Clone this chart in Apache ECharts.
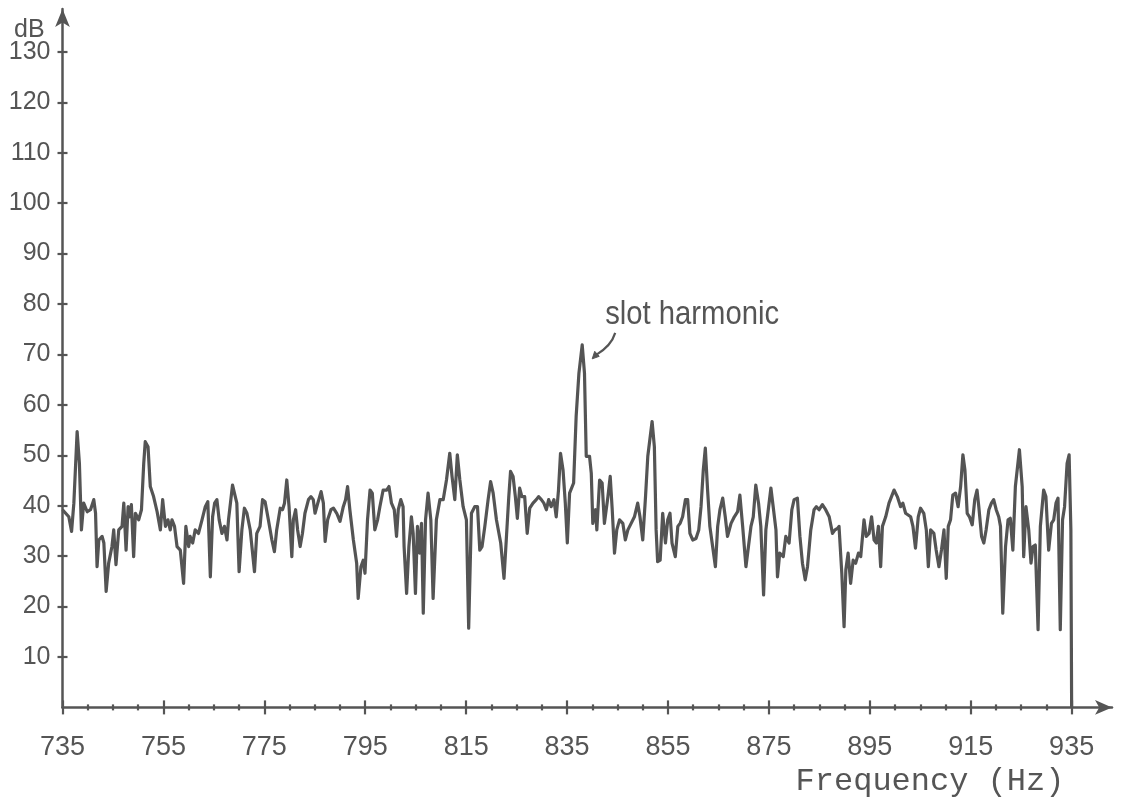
<!DOCTYPE html>
<html>
<head>
<meta charset="utf-8">
<title>Frequency spectrum – slot harmonic</title>
<script src="https://cdn.jsdelivr.net/npm/echarts@6/dist/echarts.min.js"></script>
<style>
  html, body { margin: 0; padding: 0; background: #ffffff; }
  #chart { width: 1121px; height: 804px; }
</style>
</head>
<body>
<div id="chart"></div>
<script>
// Spectrum samples: frequency (Hz) and level (dB)
const freqHz = [
  735.0, 736.25, 736.8, 737.25, 737.9, 738.35, 738.75, 739.2, 739.9, 740.55,
  741.2, 741.55, 741.85, 742.2, 742.85, 743.2, 743.65, 744.15, 744.8, 745.15,
  745.6, 746.15, 746.8, 747.15, 747.6, 748.0, 748.25, 748.65, 749.1, 749.45,
  750.1, 750.65, 751.1, 751.4, 751.95, 752.4, 753.05, 753.75, 754.4, 754.85,
  755.4, 755.9, 756.35, 756.7, 757.2, 757.7, 758.35, 759.0, 759.45, 760.0,
  760.3, 760.8, 761.3, 761.95, 762.65, 763.3, 763.8, 764.3, 764.75, 765.15,
  765.6, 766.05, 766.6, 767.1, 767.6, 767.9, 768.7,
  769.55, 770.0, 770.55, 771.05, 771.55, 772.2, 773.05, 773.5, 774.15, 774.65,
  775.15, 775.8, 776.5, 777.0, 777.45, 778.15, 778.6, 779.0, 779.45, 779.9,
  780.45, 780.75, 781.2, 781.6, 782.1, 782.55, 783.05, 783.75, 784.25, 784.7,
  785.05, 785.6, 786.25, 786.7, 787.05, 787.55, 788.2, 788.7, 789.35, 790.0,
  790.65, 791.1, 791.5, 791.95, 792.65, 793.3, 793.6, 794.15, 794.6, 794.95,
  795.45, 795.95, 796.4, 796.9, 797.45, 797.9, 798.55, 799.25, 799.7, 800.2,
  800.75, 801.2, 801.55, 802.05, 802.5,
  802.7, 803.2, 803.65, 804.15, 804.5, 804.95, 805.35, 805.8, 806.15, 806.5,
  806.95, 807.45, 808.0, 808.45, 809.1, 809.8, 810.45, 811.1, 811.75, 812.2,
  812.75, 813.25, 813.75, 814.4, 815.05, 815.5, 816.05, 816.7, 817.25, 817.7,
  818.15, 818.7, 819.35, 819.85, 820.35, 821.0, 821.85, 822.5, 822.95, 823.45,
  823.8, 824.3, 824.75, 825.15, 825.6, 826.05, 826.6, 827.1, 827.6, 828.25,
  828.9, 829.35, 829.9, 830.4, 830.9, 831.35, 831.85, 832.4, 832.85, 833.3,
  833.7, 834.2, 834.65, 835.05, 835.5,
  835.8, 836.3, 836.8, 837.35, 838.0, 838.45, 838.8, 839.45, 839.8, 840.1,
  840.65, 840.9, 841.45, 841.95, 842.4, 843.1, 843.55, 843.95, 844.4, 844.85,
  845.4, 846.05, 846.55, 847.05, 847.7, 848.35, 849.0, 849.45, 850.0, 850.55,
  851.0, 851.85, 852.3, 852.65, 852.95, 853.45, 853.95, 854.5, 854.95, 855.4,
  855.8, 856.45, 856.95, 857.4, 857.9, 858.45, 858.9, 859.35, 859.9, 860.55,
  861.1, 861.55, 862.0, 862.4, 862.85, 863.3, 863.85, 864.4, 864.85, 865.3,
  865.85, 866.35, 866.8, 867.5, 868.15, 868.8,
  869.25, 869.8, 870.45, 870.95, 871.45, 871.9, 872.4, 872.95, 873.4, 873.95,
  874.4, 874.95, 875.4, 875.85, 876.4, 876.7, 877.15, 877.85, 878.35, 879.0,
  879.55, 880.0, 880.65, 881.15, 881.65, 882.2, 882.65, 883.3, 883.95, 884.4,
  884.95, 885.6, 886.25, 886.95, 887.6, 888.1, 888.6, 888.9, 889.45, 889.9,
  890.25, 890.7, 891.2, 891.7, 892.2, 892.75, 893.2, 893.85, 894.3, 894.85,
  895.35, 895.85, 896.3, 896.7, 897.15, 897.5, 898.15, 898.8, 899.8, 900.45,
  901.1, 901.55, 902.1,
  903.1, 903.55, 904.05, 904.6, 905.05, 905.7, 906.2, 906.6, 907.05, 907.7,
  908.15, 908.7, 909.2, 909.7, 910.15, 910.55, 911.0, 911.45, 912.0, 912.5,
  913.0, 913.45, 913.85, 914.3, 914.75, 915.3, 915.8, 916.25, 916.6, 917.15,
  917.6, 918.05, 918.6, 919.1, 919.55, 920.05, 920.55, 920.9, 921.35, 921.9,
  922.4, 922.85, 923.35, 923.85, 924.65, 925.2, 925.5, 925.95, 926.5, 926.95,
  927.35, 927.8, 928.35, 928.8, 929.45, 929.9, 930.45, 931.0, 931.45, 931.9,
  932.3, 932.75, 933.2, 933.6, 934.1, 934.5, 934.85, 935.0
];

const levelDb = [
  39.2, 37.8, 34.9, 40.5, 54.7, 48.4, 35.2, 40.5, 38.8, 39.2,
  41.2, 38.5, 27.9, 33.2, 33.9, 32.6, 23.0, 28.6, 31.9, 35.2,
  28.3, 35.2, 35.9, 40.5, 31.2, 39.8, 37.8, 40.2, 29.9, 38.5,
  37.2, 39.2, 48.4, 52.7, 51.7, 43.8, 41.8, 38.8, 35.2, 41.2,
  35.9, 37.2, 35.2, 37.2, 35.9, 31.9, 31.2, 24.6, 35.9, 31.9,
  33.9, 32.6, 35.2, 34.5, 37.2, 39.8, 40.8, 25.9, 37.8, 40.5,
  41.2, 37.2, 34.5, 35.9, 33.2, 37.2, 44.1,
  40.5, 26.9, 35.2, 39.5, 38.5, 35.2, 26.9, 34.5, 35.9, 41.2,
  40.8, 37.2, 33.2, 30.9, 35.2, 39.5, 39.2, 40.5, 45.1, 39.8,
  29.9, 37.2, 39.2, 35.2, 31.9, 34.5, 38.5, 41.2, 41.8, 41.2,
  38.5, 40.5, 42.8, 40.5, 32.9, 37.2, 39.2, 39.5, 38.5, 36.9,
  39.8, 41.2, 43.8, 39.2, 33.2, 28.6, 21.6, 27.9, 29.2, 26.6,
  37.2, 43.1, 42.5, 35.2, 37.2, 39.8, 43.1, 43.1, 43.8, 40.5,
  39.2, 33.9, 39.2, 41.2, 39.8,
  31.9, 22.6, 31.9, 37.8, 34.5, 22.6, 35.9, 30.6, 36.5, 18.7,
  37.2, 42.5, 37.2, 21.6, 37.2, 41.2, 41.2, 45.1, 50.4, 45.8,
  41.2, 50.1, 45.1, 39.8, 37.2, 15.7, 38.5, 39.8, 39.8, 31.2,
  31.9, 35.9, 41.2, 44.8, 42.5, 37.2, 32.6, 25.6, 33.2, 41.8,
  46.8, 45.8, 41.8, 37.5, 43.5, 41.8, 41.8, 34.5, 39.5, 40.5,
  41.2, 41.8, 41.2, 40.5, 39.2, 41.2, 39.8, 41.2, 37.8, 43.1,
  50.4, 47.1, 40.5, 32.6, 42.5,
  42.5, 44.5, 57.7, 66.3, 71.9, 66.3, 49.8, 49.8, 46.4, 36.5,
  39.2, 35.2, 45.1, 44.5, 36.5, 41.8, 45.8, 39.2, 30.6, 35.2,
  37.2, 36.5, 33.2, 35.2, 36.5, 37.8, 40.5, 37.8, 33.2, 41.8,
  49.8, 56.7, 51.7, 35.2, 28.9, 29.2, 38.5, 32.6, 37.2, 38.5,
  32.6, 29.9, 35.9, 36.5, 37.8, 41.2, 41.2, 34.5, 33.2, 33.5,
  35.2, 39.8, 47.1, 51.4, 43.1, 35.9, 31.9, 27.9, 35.9, 39.2,
  41.5, 37.8, 33.9, 36.5, 37.8, 38.8,
  42.1, 35.9, 27.9, 31.9, 35.9, 37.8, 44.1, 40.5, 35.9, 22.3,
  35.2, 39.8, 43.5, 39.8, 35.2, 25.9, 30.6, 29.9, 33.9, 32.6,
  39.2, 41.2, 41.5, 33.9, 28.6, 25.3, 27.9, 35.2, 39.2, 39.8,
  39.2, 40.2, 39.2, 37.8, 34.5, 35.2, 35.5, 35.9, 26.6, 16.0,
  27.3, 30.6, 24.6, 29.2, 28.6, 30.6, 29.9, 37.2, 33.9, 34.5,
  37.8, 33.2, 32.6, 35.9, 27.9, 35.9, 37.8, 40.5, 43.1, 41.8,
  39.8, 40.5, 38.5,
  37.8, 35.9, 31.6, 37.8, 39.5, 38.5, 35.2, 27.9, 35.2, 34.5,
  31.2, 27.9, 31.2, 35.2, 25.6, 35.9, 37.2, 42.1, 42.5, 39.8,
  43.8, 50.1, 47.1, 38.5, 37.8, 36.2, 41.2, 43.1, 39.8, 33.9,
  32.6, 35.2, 39.2, 40.5, 41.2, 39.2, 37.8, 35.9, 18.7, 31.9,
  37.2, 37.5, 31.2, 43.8, 51.1, 43.8, 29.9, 39.8, 35.2, 28.6,
  31.9, 32.2, 15.4, 35.9, 43.1, 41.8, 31.2, 36.5, 37.2, 40.5,
  41.5, 15.4, 37.2, 39.8, 48.4, 50.1, 35.2, 0
];

// Axis ticks
const xLabelTicks = [735, 755, 775, 795, 815, 835, 855, 875, 895, 915, 935];
const xMinorTicks = [
  740, 745, 750, 760, 765, 770, 780, 785, 790, 800, 805, 810, 820, 825, 830,
  840, 845, 850, 860, 865, 870, 880, 885, 890, 900, 905, 910, 920, 925, 930
];
const yLabelTicks = [10, 20, 30, 40, 50, 60, 70, 80, 90, 100, 110, 120, 130];

const yUnit = 'dB';
const xTitle = 'Frequency (Hz)';
const peakNote = 'slot harmonic';

// Axis extents (the lines run past the last tick to the arrow heads)
const X_MIN = 735, X_MAX = 943.0;
const Y_MIN = 0, Y_MAX = 138.5;

const INK = '#555555';
const LABEL_FONT = "'Liberation Sans', Arial, sans-serif";

const chart = echarts.init(document.getElementById('chart'), null, { renderer: 'canvas' });

const seriesData = freqHz.map((f, i) => [f, levelDb[i]]);

// Base axis definitions, reused by the overlaid tick-only axes
function xAxisBase(extra) {
  return Object.assign({
    type: 'value', min: X_MIN, max: X_MAX, position: 'bottom',
    axisLine: { show: false },
    axisLabel: { show: false },
    splitLine: { show: false },
    axisTick: { show: false }
  }, extra);
}
function yAxisBase(extra) {
  return Object.assign({
    type: 'value', min: Y_MIN, max: Y_MAX, position: 'left',
    axisLine: { show: false },
    axisLabel: { show: false },
    splitLine: { show: false },
    axisTick: { show: false }
  }, extra);
}

const option = {
  backgroundColor: '#ffffff',
  animation: false,
  grid: {
    left: 62.5, right: 9, top: 9, bottom: 96.6,
    containLabel: false,
    outerBoundsMode: 'none'
  },
  xAxis: [
    xAxisBase({
      axisLine: {
        show: true,
        symbol: ['none', 'arrow'],
        symbolSize: [11, 17],
        lineStyle: { color: INK, width: 2.5 }
      },
      axisTick: {
        show: true, inside: false, length: 7,
        customValues: xLabelTicks,
        lineStyle: { color: INK, width: 2.2 }
      },
      axisLabel: {
        show: true, margin: 27,
        customValues: xLabelTicks,
        color: INK, fontSize: 27, fontFamily: LABEL_FONT
      }
    }),
    xAxisBase({
      axisTick: {
        show: true, inside: true, length: 7,
        customValues: xLabelTicks,
        lineStyle: { color: INK, width: 2.2 }
      }
    }),
    xAxisBase({
      axisTick: {
        show: true, inside: false, length: 3,
        customValues: xMinorTicks,
        lineStyle: { color: INK, width: 2.2 }
      }
    }),
    xAxisBase({
      axisTick: {
        show: true, inside: true, length: 3,
        customValues: xMinorTicks,
        lineStyle: { color: INK, width: 2.2 }
      }
    })
  ],
  yAxis: [
    yAxisBase({
      axisLine: {
        show: true,
        symbol: ['none', 'arrow'],
        symbolSize: [11, 18],
        lineStyle: { color: INK, width: 2.5 }
      },
      axisTick: {
        show: true, inside: false, length: 5,
        customValues: yLabelTicks,
        lineStyle: { color: INK, width: 2.2 }
      },
      axisLabel: {
        show: true, margin: 12,
        customValues: yLabelTicks,
        color: INK, fontSize: 25, fontFamily: LABEL_FONT
      }
    }),
    yAxisBase({
      axisTick: {
        show: true, inside: true, length: 5,
        customValues: yLabelTicks,
        lineStyle: { color: INK, width: 2.2 }
      }
    })
  ],
  series: [{
    type: 'line',
    xAxisIndex: 0,
    yAxisIndex: 0,
    data: seriesData,
    showSymbol: false,
    symbol: 'none',
    smooth: false,
    lineStyle: { color: '#545454', width: 3.2, join: 'round' },
    z: 3
  }]
};

chart.setOption(option);

// Annotations: unit, axis title and the call-out on the highest peak
let peakIdx = 0;
levelDb.forEach((v, i) => { if (v > levelDb[peakIdx]) peakIdx = i; });
const p = chart.convertToPixel({ xAxisIndex: 0, yAxisIndex: 0 }, [freqHz[peakIdx], levelDb[peakIdx]]);
const px = p[0], py = p[1];

chart.setOption({
  graphic: [
    {
      type: 'text', left: 14, top: 18,
      style: { text: yUnit, fill: INK, font: "25px " + LABEL_FONT }
    },
    {
      type: 'text', x: 930, y: 782,
      style: {
        text: xTitle, fill: INK,
        font: "32px 'Liberation Mono', 'DejaVu Sans Mono', monospace",
        textAlign: 'center', textVerticalAlign: 'middle'
      }
    },
    {
      type: 'text', x: px + 23, y: py - 30,
      scaleX: 0.86, scaleY: 1,
      style: {
        text: peakNote, fill: INK,
        font: "34px 'Liberation Sans', sans-serif",
        textAlign: 'left', textVerticalAlign: 'middle'
      }
    },
    {
      type: 'bezierCurve',
      shape: {
        x1: px + 33, y1: py - 12,
        cpx1: px + 30, cpy1: py - 2,
        cpx2: px + 24, cpy2: py + 4,
        x2: px + 14, y2: py + 10
      },
      style: { stroke: INK, lineWidth: 2.2, fill: null }
    },
    {
      type: 'polygon',
      shape: { points: [[px + 10, py + 14], [px + 17, py + 11.5], [px + 12.5, py + 6.5]] },
      style: { fill: INK, stroke: INK, lineWidth: 1 }
    }
  ]
});
</script>
</body>
</html>
